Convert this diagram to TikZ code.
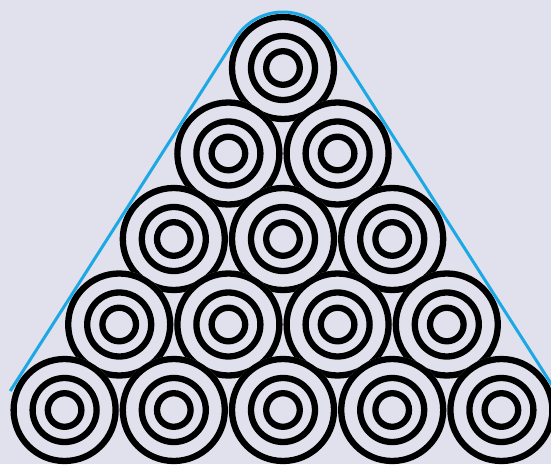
\documentclass[tikz,border=0pt]{standalone}
\definecolor{bgc}{RGB}{225,225,238}
\definecolor{hullc}{RGB}{27,168,228}
\tikzset{
  ringline/.style={draw=black, line width=6.3pt},
  hull/.style={draw=hullc, line width=3pt, line join=round},
  pics/target/.style={code={
    \fill[bgc] (0,0) circle[radius=54pt];
    \draw[ringline] (0,0) circle[radius=51pt];
    \draw[ringline] (0,0) circle[radius=32pt];
    \draw[ringline] (0,0) circle[radius=16.8pt];
  }}
}
\begin{document}
\begin{tikzpicture}[x=1pt,y=1pt]
\fill[bgc] (0,0) rectangle (551,464);
\useasboundingbox (0,0) rectangle (551,464);
\clip (0,0) rectangle (551,464);
\foreach \k in {0,...,4}{
  \foreach \i in {0,...,\k}{
    \pic (t\k\i) at ({283+109.2*(\i-\k/2)},{396-85.5*\k}) {target};
  }
}
\coordinate (apex) at (283,396);
\coordinate (lend) at (10.2,73);
\coordinate (rend) at (555.8,73);
\draw[hull] (lend) -- ([shift={(147.43:56)}]apex) arc[start angle=147.43, end angle=32.57, radius=56] -- (rend);
\end{tikzpicture}
\end{document}
